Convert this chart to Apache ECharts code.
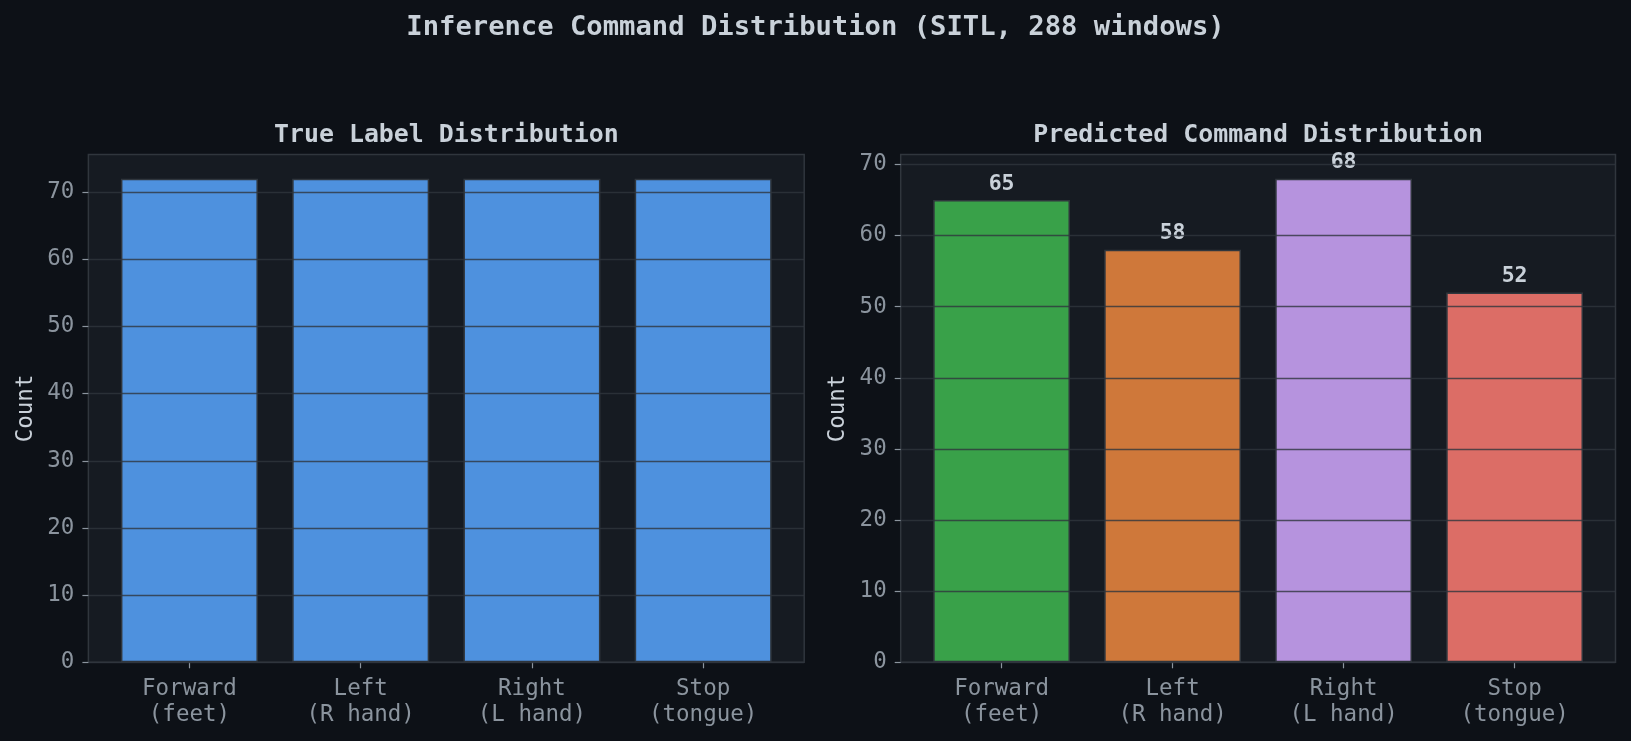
<!DOCTYPE html>
<html>
<head>
<meta charset="utf-8">
<script src="https://cdn.jsdelivr.net/npm/echarts@6/dist/echarts.min.js"></script>
<style>
html,body{margin:0;padding:0;background:#0d1117;}
#c{width:1631px;height:741px;}
</style>
</head>
<body>
<div id="c"></div>
<script>
const categories = ['Forward\n(feet)', 'Left\n(R hand)', 'Right\n(L hand)', 'Stop\n(tongue)'];
const trueCounts = [72, 72, 72, 72];
const predCounts = [65, 58, 68, 52];
const yTicks = [0, 10, 20, 30, 40, 50, 60, 70];

const mainTitle = 'Inference Command Distribution (SITL, 288 windows)';
const leftTitle = 'True Label Distribution';
const rightTitle = 'Predicted Command Distribution';
const yName = 'Count';

const trueColor = 'rgba(88,166,255,0.85)';
const predColors = ['rgba(63,185,80,0.85)', 'rgba(240,136,62,0.85)', 'rgba(210,168,255,0.85)', 'rgba(255,123,114,0.85)'];

const FONT = 'DejaVu Sans Mono';
const BG = '#0d1117', PANEL = '#161b22', EDGE = '#30363d', TXT = '#c9d1d9', MUTED = '#8b949e';

const leftMax = Math.max(...trueCounts) * 1.05;
const rightMax = Math.max(...predCounts) * 1.05;

const W = 1631, H = 741;
const frames = [
  {l: 88.4, r: 804.2, t: 154.5, b: 662.3},
  {l: 900.7, r: 1615.5, t: 154.5, b: 662.3}
];
function gridOf(f, inset) {
  return {left: f.l + inset, width: (f.r - f.l) - 2 * inset, top: f.t, height: f.b - f.t};
}
// margins: data from -0.59..3.59 => inset of 0.09 band
function insetOf(f) { const band = (f.r - f.l) / 4.18; return 0.09 * band; }

const grids = [];
frames.forEach(f => {
  const g0 = gridOf(f, 0);
  grids.push(Object.assign({show: true, backgroundColor: PANEL, borderColor: EDGE, borderWidth: 1.5, z: 0}, g0));
  const g1 = gridOf(f, insetOf(f));
  grids.push(Object.assign({show: false}, g1));
});

function frameY(gi, max) {
  return {
    type: 'value', gridIndex: gi, min: 0, max: max, interval: 10, z: 3,
    name: yName, nameLocation: 'middle', nameGap: 51,
    nameTextStyle: {color: TXT, fontFamily: FONT, fontSize: 22.5},
    axisLine: {show: false},
    axisTick: {show: true, length: 6, customValues: yTicks, lineStyle: {color: MUTED, width: 1.2}},
    axisLabel: {show: true, customValues: yTicks, margin: 14, color: MUTED, fontFamily: FONT, fontSize: 22.5},
    splitLine: {show: true, lineStyle: {color: 'rgba(48,54,61,0.8)', width: 1.3}}
  };
}
function dataY(gi, max) {
  return {type: 'value', gridIndex: gi, min: 0, max: max, show: false};
}
function frameX(gi) {
  return {type: 'value', gridIndex: gi, min: 0, max: 1, show: false};
}
function dataX(gi) {
  return {
    type: 'category', gridIndex: gi, data: categories, boundaryGap: true,
    axisLine: {show: false},
    axisTick: {show: true, alignWithLabel: true, length: 6, lineStyle: {color: MUTED, width: 1.2}},
    axisLabel: {color: MUTED, fontFamily: FONT, fontSize: 22.5, lineHeight: 26.5, margin: 13.5},
    splitLine: {show: false}
  };
}

const option = {
  backgroundColor: BG,
  animation: false,
  title: [
    {text: mainTitle, left: W / 2, top: 14, textAlign: 'center', padding: 0,
     textStyle: {color: TXT, fontFamily: FONT, fontSize: 27.2, fontWeight: 'bold'}},
    {text: leftTitle, left: (frames[0].l + frames[0].r) / 2, top: 123, textAlign: 'center', padding: 0,
     textStyle: {color: TXT, fontFamily: FONT, fontSize: 24.9, fontWeight: 'bold'}},
    {text: rightTitle, left: (frames[1].l + frames[1].r) / 2, top: 123, textAlign: 'center', padding: 0,
     textStyle: {color: TXT, fontFamily: FONT, fontSize: 24.9, fontWeight: 'bold'}}
  ],
  grid: grids,
  xAxis: [frameX(0), dataX(1), frameX(2), dataX(3)],
  yAxis: [frameY(0, leftMax), dataY(1, leftMax), frameY(2, rightMax), dataY(3, rightMax)],
  series: [
    {
      type: 'bar', xAxisIndex: 1, yAxisIndex: 1, barWidth: '80%', z: 2,
      data: trueCounts.map(v => ({value: v, itemStyle: {color: trueColor}})),
      itemStyle: {borderColor: EDGE, borderWidth: 1.5}
    },
    {
      type: 'bar', xAxisIndex: 3, yAxisIndex: 3, barWidth: '80%', z: 2,
      data: predCounts.map((v, i) => ({value: v, itemStyle: {color: predColors[i]}})),
      itemStyle: {borderColor: EDGE, borderWidth: 1.5},
      label: {show: true, position: 'top', distance: 5, color: TXT, fontFamily: FONT, fontSize: 21.5, fontWeight: 'bold'}
    }
  ]
};

const chart = echarts.init(document.getElementById('c'), null, {renderer: 'canvas'});
chart.setOption(option);
</script>
</body>
</html>
